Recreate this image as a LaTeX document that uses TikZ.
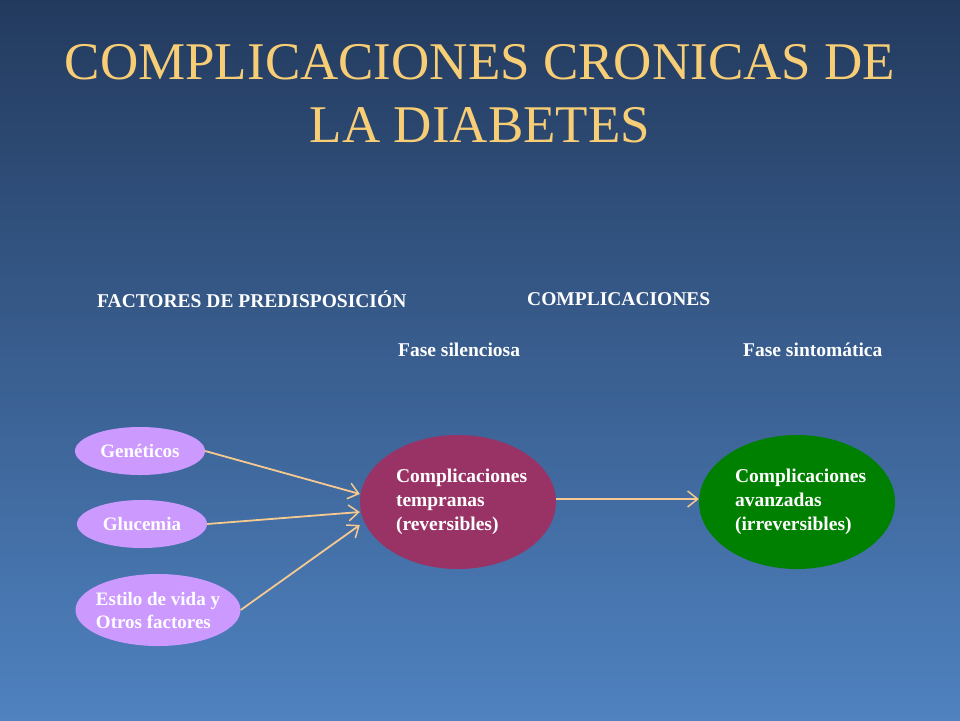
\documentclass[tikz,border=0pt]{standalone}
\usepackage{fontspec}
\setmainfont{Liberation Serif}
\usetikzlibrary{arrows.meta}
\definecolor{bgtop}{HTML}{233A5E}
\definecolor{bgbot}{HTML}{4F82C0}
\definecolor{titlec}{HTML}{F7CD75}
\definecolor{peach}{HTML}{F5C98F}
\definecolor{lilac}{HTML}{CC99FF}
\definecolor{wine}{HTML}{993366}
\definecolor{grn}{HTML}{008000}
\tikzset{
 small/.style={ellipse, fill=lilac, text=white, font=\bfseries\fontsize{19}{23}\selectfont, inner sep=0pt},
 big/.style={ellipse, text=white, font=\bfseries\fontsize{19.5}{24}\selectfont, minimum width=196pt, minimum height=134pt, align=left, text width=124pt},
 lbl/.style={text=white, font=\bfseries\fontsize{19.5}{23}\selectfont, anchor=west, inner sep=0pt},
 conn/.style={peach, line width=1.8pt, -{Straight Barb[length=10pt,width=16pt,line width=1.5pt]}}
}
\usetikzlibrary{shapes.geometric}
\begin{document}
\begin{tikzpicture}[x=1pt,y=-1pt]
\useasboundingbox (0,0) rectangle (960,720);
\shade[top color=bgtop, bottom color=bgbot] (0,0) rectangle (960,720);
\node[text=titlec, font=\fontsize{53}{63}\selectfont, align=center] (title) at (480,94) {COMPLICACIONES CRONICAS DE\\LA DIABETES};
\node[lbl] (fp) at (97,299) {FACTORES DE PREDISPOSICIÓN};
\node[lbl] (co) at (527,299) {COMPLICACIONES};
\node[lbl] (fs) at (398,350) {Fase silenciosa};
\node[lbl] (fsi) at (743,350) {Fase sintomática};
\node[small, minimum width=130pt, minimum height=48pt] (gen) at (140,451) {Genéticos};
\node[small, minimum width=130pt, minimum height=48pt] (glu) at (142,524) {Glucemia};
\node[ellipse, fill=lilac, minimum width=165pt, minimum height=72pt] (est) at (158,610) {};
\node[text=white, font=\bfseries\fontsize{19}{23}\selectfont, align=left] (estt) at (est.center) {Estilo de vida y\\Otros factores};
\node[big, fill=wine] (tem) at (458,502) {Complicaciones\\tempranas\\(reversibles)};
\node[big, fill=grn] (ava) at (797,502) {Complicaciones\\avanzadas\\(irreversibles)};
\draw[conn] (gen.east) -- (tem.west |- 0,494);
\draw[conn] (glu.east) -- (tem.west |- 0,512);
\draw[conn] (est.east) -- (tem.west |- 0,525);
\draw[conn] (tem.east |- 0,499) -- (ava.west |- 0,499);
\end{tikzpicture}
\end{document}
